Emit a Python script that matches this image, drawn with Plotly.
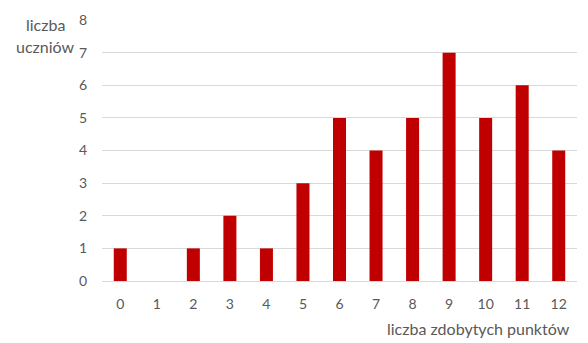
import plotly.graph_objects as go

categories = [str(i) for i in range(13)]
values = [1, 0, 1, 2, 1, 3, 5, 4, 5, 7, 5, 6, 4]
y_ticks = [0, 1, 2, 3, 4, 5, 6, 7, 8]

font_family = "Lato, Calibri, sans-serif"
gray = "#595959"

fig = go.Figure(go.Bar(x=categories, y=values, marker=dict(color="#C00000", line=dict(width=0))))

fig.update_layout(
    width=588, height=343,
    margin=dict(l=102, r=11, t=14, b=62),
    plot_bgcolor="white", paper_bgcolor="white",
    bargap=0.644,
    showlegend=False,
    font=dict(family=font_family, size=14, color=gray),
)
fig.update_xaxes(type="category", showgrid=False, showline=True, linecolor="#D9D9D9", linewidth=1,
                 ticks="", tickfont=dict(size=14, color=gray), ticklabelstandoff=10)
fig.update_yaxes(range=[0, 8], tickvals=y_ticks, showgrid=True, gridcolor="#D9D9D9", gridwidth=1,
                 zeroline=False, showline=False, ticks="", tickfont=dict(size=14, color=gray),
                 ticklabelstandoff=14)

title_font = dict(size=16, color=gray, family=font_family)
fig.add_annotation(text="liczba", xref="paper", yref="paper", x=-0.12, y=0.9626, yshift=5,
                   xanchor="center", yanchor="middle", showarrow=False, font=title_font)
fig.add_annotation(text="uczniów", xref="paper", yref="paper", x=-0.12, y=0.8766, yshift=6,
                   xanchor="center", yanchor="middle", showarrow=False, font=title_font)
fig.add_annotation(text="liczba zdobytych punktów", xref="paper", yref="paper", x=0.9895, y=-0.1813,
                   xanchor="right", yanchor="middle", showarrow=False, font=title_font)

fig.write_html("out.html")
